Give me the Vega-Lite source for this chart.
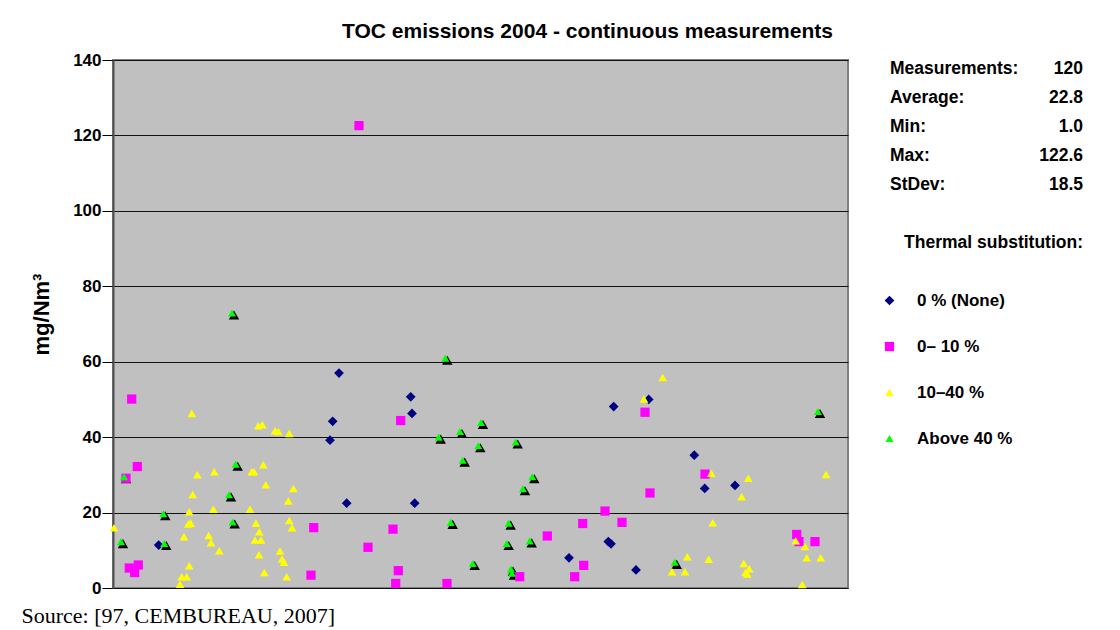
{
  "$schema": "https://vega.github.io/schema/vega-lite/v6.json",
  "width": 735,
  "height": 528,
  "autosize": "none",
  "padding": {"left": 113, "top": 60, "right": 272, "bottom": 42},
  "background": "white",
  "title": {
    "text": "TOC emissions 2004 - continuous measurements",
    "font": "Liberation Sans",
    "fontSize": 21,
    "fontWeight": "bold",
    "color": "black",
    "anchor": "middle",
    "dx": 107,
    "offset": 9
  },
  "config": {
    "view": {"fill": "#C0C0C0", "stroke": "#808080", "strokeWidth": 2},
    "font": "Liberation Sans"
  },
  "datasets": {
    "pts": [
      {"pos": 226, "toc": 57.0, "sub": "0 % (None)"},
      {"pos": 219.7, "toc": 44.2, "sub": "0 % (None)"},
      {"pos": 217, "toc": 39.2, "sub": "0 % (None)"},
      {"pos": 233.7, "toc": 22.5, "sub": "0 % (None)"},
      {"pos": 45.7, "toc": 11.4, "sub": "0 % (None)"},
      {"pos": 297.7, "toc": 50.7, "sub": "0 % (None)"},
      {"pos": 299, "toc": 46.3, "sub": "0 % (None)"},
      {"pos": 301.7, "toc": 22.5, "sub": "0 % (None)"},
      {"pos": 456, "toc": 8.0, "sub": "0 % (None)"},
      {"pos": 535.7, "toc": 50.0, "sub": "0 % (None)"},
      {"pos": 500.7, "toc": 48.1, "sub": "0 % (None)"},
      {"pos": 581.3, "toc": 35.2, "sub": "0 % (None)"},
      {"pos": 591.7, "toc": 26.4, "sub": "0 % (None)"},
      {"pos": 622, "toc": 27.2, "sub": "0 % (None)"},
      {"pos": 495.3, "toc": 12.3, "sub": "0 % (None)"},
      {"pos": 498, "toc": 11.7, "sub": "0 % (None)"},
      {"pos": 523, "toc": 4.8, "sub": "0 % (None)"},
      {"pos": 18.7, "toc": 50.1, "sub": "0– 10 %"},
      {"pos": 24.3, "toc": 32.2, "sub": "0– 10 %"},
      {"pos": 13, "toc": 29.1, "sub": "0– 10 %"},
      {"pos": 16.3, "toc": 5.3, "sub": "0– 10 %"},
      {"pos": 25.3, "toc": 6.1, "sub": "0– 10 %"},
      {"pos": 21.7, "toc": 4.1, "sub": "0– 10 %"},
      {"pos": 200.7, "toc": 16.0, "sub": "0– 10 %"},
      {"pos": 198, "toc": 3.4, "sub": "0– 10 %"},
      {"pos": 246, "toc": 122.6, "sub": "0– 10 %"},
      {"pos": 287.7, "toc": 44.4, "sub": "0– 10 %"},
      {"pos": 280, "toc": 15.6, "sub": "0– 10 %"},
      {"pos": 255, "toc": 10.8, "sub": "0– 10 %"},
      {"pos": 285.3, "toc": 4.6, "sub": "0– 10 %"},
      {"pos": 282.7, "toc": 1.2, "sub": "0– 10 %"},
      {"pos": 334, "toc": 1.2, "sub": "0– 10 %"},
      {"pos": 406.7, "toc": 3.0, "sub": "0– 10 %"},
      {"pos": 434.3, "toc": 13.8, "sub": "0– 10 %"},
      {"pos": 469.7, "toc": 17.1, "sub": "0– 10 %"},
      {"pos": 470.7, "toc": 6.0, "sub": "0– 10 %"},
      {"pos": 461.7, "toc": 3.0, "sub": "0– 10 %"},
      {"pos": 532, "toc": 46.6, "sub": "0– 10 %"},
      {"pos": 592, "toc": 30.2, "sub": "0– 10 %"},
      {"pos": 537, "toc": 25.2, "sub": "0– 10 %"},
      {"pos": 492, "toc": 20.4, "sub": "0– 10 %"},
      {"pos": 509, "toc": 17.4, "sub": "0– 10 %"},
      {"pos": 683.7, "toc": 14.2, "sub": "0– 10 %"},
      {"pos": 686, "toc": 12.3, "sub": "0– 10 %"},
      {"pos": 702, "toc": 12.3, "sub": "0– 10 %"},
      {"pos": 78.7, "toc": 46.3, "sub": "10–40 %"},
      {"pos": 145.3, "toc": 43.0, "sub": "10–40 %"},
      {"pos": 149.3, "toc": 43.3, "sub": "10–40 %"},
      {"pos": 162, "toc": 41.7, "sub": "10–40 %"},
      {"pos": 165.3, "toc": 41.5, "sub": "10–40 %"},
      {"pos": 176.3, "toc": 41.0, "sub": "10–40 %"},
      {"pos": 84.3, "toc": 30.0, "sub": "10–40 %"},
      {"pos": 101.3, "toc": 30.8, "sub": "10–40 %"},
      {"pos": 138.7, "toc": 30.8, "sub": "10–40 %"},
      {"pos": 141, "toc": 30.8, "sub": "10–40 %"},
      {"pos": 150.3, "toc": 32.7, "sub": "10–40 %"},
      {"pos": 152.7, "toc": 27.4, "sub": "10–40 %"},
      {"pos": 180.3, "toc": 26.4, "sub": "10–40 %"},
      {"pos": 79.7, "toc": 24.8, "sub": "10–40 %"},
      {"pos": 175.3, "toc": 23.1, "sub": "10–40 %"},
      {"pos": 76.3, "toc": 20.2, "sub": "10–40 %"},
      {"pos": 100.3, "toc": 20.9, "sub": "10–40 %"},
      {"pos": 137, "toc": 20.9, "sub": "10–40 %"},
      {"pos": 1, "toc": 16.0, "sub": "10–40 %"},
      {"pos": 75.3, "toc": 17.0, "sub": "10–40 %"},
      {"pos": 77.7, "toc": 17.2, "sub": "10–40 %"},
      {"pos": 143, "toc": 17.2, "sub": "10–40 %"},
      {"pos": 176.3, "toc": 17.9, "sub": "10–40 %"},
      {"pos": 179, "toc": 16.0, "sub": "10–40 %"},
      {"pos": 146.3, "toc": 14.9, "sub": "10–40 %"},
      {"pos": 71, "toc": 13.6, "sub": "10–40 %"},
      {"pos": 95.7, "toc": 13.9, "sub": "10–40 %"},
      {"pos": 98, "toc": 12.0, "sub": "10–40 %"},
      {"pos": 142, "toc": 12.7, "sub": "10–40 %"},
      {"pos": 148, "toc": 12.7, "sub": "10–40 %"},
      {"pos": 106.3, "toc": 9.9, "sub": "10–40 %"},
      {"pos": 146, "toc": 8.8, "sub": "10–40 %"},
      {"pos": 167, "toc": 9.8, "sub": "10–40 %"},
      {"pos": 169, "toc": 7.7, "sub": "10–40 %"},
      {"pos": 171, "toc": 6.8, "sub": "10–40 %"},
      {"pos": 76.3, "toc": 5.9, "sub": "10–40 %"},
      {"pos": 68.7, "toc": 3.0, "sub": "10–40 %"},
      {"pos": 73.7, "toc": 3.0, "sub": "10–40 %"},
      {"pos": 67, "toc": 1.0, "sub": "10–40 %"},
      {"pos": 151.3, "toc": 4.1, "sub": "10–40 %"},
      {"pos": 173.7, "toc": 3.0, "sub": "10–40 %"},
      {"pos": 549.7, "toc": 55.8, "sub": "10–40 %"},
      {"pos": 531, "toc": 50.1, "sub": "10–40 %"},
      {"pos": 598.3, "toc": 30.4, "sub": "10–40 %"},
      {"pos": 713, "toc": 30.1, "sub": "10–40 %"},
      {"pos": 635.3, "toc": 29.1, "sub": "10–40 %"},
      {"pos": 628.7, "toc": 24.2, "sub": "10–40 %"},
      {"pos": 599.7, "toc": 17.3, "sub": "10–40 %"},
      {"pos": 682.7, "toc": 12.5, "sub": "10–40 %"},
      {"pos": 692, "toc": 11.0, "sub": "10–40 %"},
      {"pos": 693.7, "toc": 8.0, "sub": "10–40 %"},
      {"pos": 707.7, "toc": 8.0, "sub": "10–40 %"},
      {"pos": 574.3, "toc": 8.3, "sub": "10–40 %"},
      {"pos": 595.7, "toc": 7.6, "sub": "10–40 %"},
      {"pos": 559, "toc": 4.3, "sub": "10–40 %"},
      {"pos": 572, "toc": 4.3, "sub": "10–40 %"},
      {"pos": 630.7, "toc": 6.5, "sub": "10–40 %"},
      {"pos": 636.3, "toc": 5.1, "sub": "10–40 %"},
      {"pos": 632.7, "toc": 4.2, "sub": "10–40 %"},
      {"pos": 634.3, "toc": 3.7, "sub": "10–40 %"},
      {"pos": 689.3, "toc": 0.9, "sub": "10–40 %"},
      {"pos": 11, "toc": 29.5, "sub": "Above 40 %"},
      {"pos": 122.7, "toc": 32.8, "sub": "Above 40 %"},
      {"pos": 116, "toc": 24.7, "sub": "Above 40 %"},
      {"pos": 50.3, "toc": 19.7, "sub": "Above 40 %"},
      {"pos": 119.7, "toc": 17.5, "sub": "Above 40 %"},
      {"pos": 8, "toc": 12.3, "sub": "Above 40 %"},
      {"pos": 51.3, "toc": 11.8, "sub": "Above 40 %"},
      {"pos": 119, "toc": 72.9, "sub": "Above 40 %"},
      {"pos": 332.3, "toc": 60.9, "sub": "Above 40 %"},
      {"pos": 368, "toc": 43.9, "sub": "Above 40 %"},
      {"pos": 347, "toc": 41.5, "sub": "Above 40 %"},
      {"pos": 325.7, "toc": 40.0, "sub": "Above 40 %"},
      {"pos": 365.3, "toc": 37.7, "sub": "Above 40 %"},
      {"pos": 402.7, "toc": 38.7, "sub": "Above 40 %"},
      {"pos": 349.7, "toc": 33.9, "sub": "Above 40 %"},
      {"pos": 419.3, "toc": 29.5, "sub": "Above 40 %"},
      {"pos": 410, "toc": 26.3, "sub": "Above 40 %"},
      {"pos": 337.7, "toc": 17.4, "sub": "Above 40 %"},
      {"pos": 395.7, "toc": 17.2, "sub": "Above 40 %"},
      {"pos": 393.7, "toc": 11.8, "sub": "Above 40 %"},
      {"pos": 416.7, "toc": 12.5, "sub": "Above 40 %"},
      {"pos": 359.7, "toc": 6.5, "sub": "Above 40 %"},
      {"pos": 398, "toc": 5.0, "sub": "Above 40 %"},
      {"pos": 399, "toc": 3.9, "sub": "Above 40 %"},
      {"pos": 705, "toc": 46.8, "sub": "Above 40 %"},
      {"pos": 561.7, "toc": 6.8, "sub": "Above 40 %"}
    ],
    "stats": [
      {"label": "Measurements:", "val": "120", "row": 1},
      {"label": "Average:", "val": "22.8", "row": 2},
      {"label": "Min:", "val": "1.0", "row": 3},
      {"label": "Max:", "val": "122.6", "row": 4},
      {"label": "StDev:", "val": "18.5", "row": 5},
      {"label": "", "val": "Thermal substitution:", "row": 7}
    ]
  },
  "layer": [
    {
      "data": {"name": "pts"},
      "encoding": {
        "x": {
          "field": "pos",
          "type": "quantitative",
          "scale": {"domain": [0, 735], "nice": false, "zero": false},
          "axis": {
            "title": "Source: [97, CEMBUREAU, 2007]",
            "domain": false,
            "ticks": false,
            "labels": false,
            "grid": false,
            "titleFont": "Liberation Serif",
            "titleFontSize": 22,
            "titleFontWeight": "normal",
            "titleColor": "black",
            "titleAnchor": "start",
            "titleAlign": "left",
            "titleBaseline": "alphabetic",
            "titleX": -92,
            "titleY": 34
          }
        },
        "y": {
          "field": "toc",
          "type": "quantitative",
          "scale": {"domain": [0, 140], "nice": false},
          "axis": {
            "title": "mg/Nm³",
            "values": [0, 20, 40, 60, 80, 100, 120, 140],
            "titleFont": "Liberation Sans",
            "titleFontSize": 22,
            "titleFontWeight": "bold",
            "titleColor": "black",
            "titlePadding": 19,
            "titleY": 254,
            "labelFont": "Liberation Sans",
            "labelFontSize": 17,
            "labelFontWeight": "bold",
            "labelColor": "black",
            "labelPadding": 1,
            "tickSize": 11,
            "tickColor": "black",
            "tickWidth": 1,
            "domainColor": "#505050",
            "domainWidth": 2,
            "gridColor": "#111111",
            "gridWidth": 1,
            "gridOpacity": 1
          }
        }
      },
      "layer": [
        {
          "transform": [{"filter": "datum.sub === 'Above 40 %'"}],
          "mark": {"type": "point", "shape": "triangle-up", "filled": true, "color": "black", "size": 110, "strokeWidth": 0, "opacity": 1, "xOffset": 2, "yOffset": 2}
        },
        {
          "mark": {"type": "point", "filled": true, "strokeWidth": 0, "opacity": 1},
          "encoding": {
            "color": {
              "field": "sub",
              "type": "nominal",
              "scale": {"domain": ["0 % (None)", "0– 10 %", "10–40 %", "Above 40 %"], "range": ["#000080", "#FF00FF", "#FFFF00", "#00FF00"]},
              "legend": {
                "orient": "none",
                "legendX": 768,
                "legendY": 232,
                "title": null,
                "padding": 0,
                "labelFont": "Liberation Sans",
                "labelFontSize": 17,
                "labelFontWeight": "bold",
                "labelColor": "black",
                "labelOffset": 19,
                "rowPadding": 28,
                "symbolSize": 50,
                "symbolStrokeWidth": 0
              }
            },
            "shape": {
              "field": "sub",
              "type": "nominal",
              "scale": {"domain": ["0 % (None)", "0– 10 %", "10–40 %", "Above 40 %"], "range": ["diamond", "square", "triangle-up", "triangle-up"]}
            },
            "size": {
              "field": "sub",
              "type": "nominal",
              "scale": {"domain": ["0 % (None)", "0– 10 %", "10–40 %", "Above 40 %"], "range": [95, 66, 110, 110]},
              "legend": null
            }
          }
        }
      ]
    },
    {
      "data": {"name": "stats"},
      "encoding": {
        "y": {"field": "row", "type": "quantitative", "scale": {"domain": [1, 7], "range": [14, 188], "nice": false, "zero": false}, "axis": null}
      },
      "layer": [
        {
          "mark": {"type": "text", "align": "left", "baseline": "alphabetic", "font": "Liberation Sans", "fontSize": 17.5, "fontWeight": "bold", "color": "black"},
          "encoding": {
            "x": {"datum": 0, "type": "quantitative", "scale": {"domain": [0, 1], "range": [777, 970]}, "axis": null},
            "text": {"field": "label"}
          }
        },
        {
          "mark": {"type": "text", "align": "right", "baseline": "alphabetic", "font": "Liberation Sans", "fontSize": 17.5, "fontWeight": "bold", "color": "black"},
          "encoding": {
            "x": {"datum": 1, "type": "quantitative", "scale": {"domain": [0, 1], "range": [777, 970]}, "axis": null},
            "text": {"field": "val"}
          }
        }
      ]
    }
  ],
  "resolve": {"scale": {"x": "independent", "y": "independent", "color": "independent", "shape": "independent", "size": "independent"}}
}
